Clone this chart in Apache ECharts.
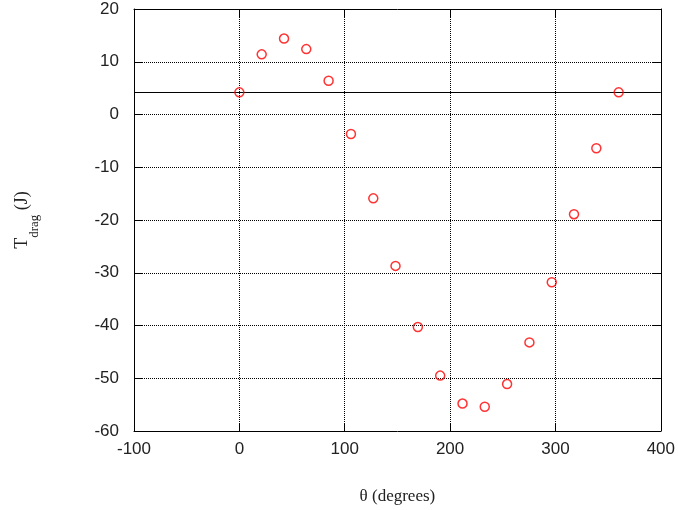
<!DOCTYPE html>
<html>
<head>
<meta charset="utf-8">
<script src="https://cdn.jsdelivr.net/npm/echarts@6/dist/echarts.min.js"></script>
<style>
  html, body { margin: 0; padding: 0; background: #fff; }
  #chart { width: 678px; height: 510px; }
</style>
</head>
<body>
<div id="chart"></div>
<script>
// Crank angle (degrees) and drag torque (J) samples
const theta = [0, 21.2, 42.4, 63.5, 84.7, 105.9, 127.1, 148.2, 169.4, 190.6,
               211.8, 232.9, 254.1, 275.3, 296.5, 317.6, 338.8, 360];
const tDrag = [4.2, 11.4, 14.4, 12.4, 6.4, -3.7, -15.9, -28.7, -40.3, -49.5,
               -54.8, -55.4, -51.1, -43.2, -31.8, -18.9, -6.4, 4.2];
// Reference level drawn across the full x range
const refLevel = 4.17;
const xRange = [-100, 400];
const yRange = [-60, 20];

const chart = echarts.init(document.getElementById('chart'), null, { renderer: 'canvas' });

const tickFont = { fontFamily: 'Liberation Sans, Arial, sans-serif', fontSize: 17, color: '#222' };
const serif = 'Liberation Serif, Times New Roman, serif';

const grid = { left: 134, right: 17, top: 9, bottom: 79 };

function xAx(primary) {
  return {
    type: 'value', min: xRange[0], max: xRange[1], interval: 100,
    position: primary ? 'bottom' : 'top',
    axisLine: { show: true, onZero: false, lineStyle: { color: '#000', width: 1 } },
    axisTick: { show: true, inside: true, length: 8, lineStyle: { color: '#000' } },
    axisLabel: primary ? Object.assign({ margin: 10 }, tickFont) : { show: false },
    splitLine: primary ? { show: true, lineStyle: { color: '#000', type: [1, 1], width: 1 } } : { show: false },
    name: primary ? '\u03b8 (degrees)' : '',
    nameLocation: 'middle', nameGap: 57,
    nameTextStyle: { fontFamily: serif, fontSize: 17, color: '#222' }
  };
}
function yAx(primary) {
  return {
    type: 'value', min: yRange[0], max: yRange[1], interval: 10,
    position: primary ? 'left' : 'right',
    axisLine: { show: true, onZero: false, lineStyle: { color: '#000', width: 1 } },
    axisTick: { show: true, inside: true, length: 8, lineStyle: { color: '#000' } },
    axisLabel: primary ? Object.assign({ margin: 15 }, tickFont) : { show: false },
    splitLine: primary ? { show: true, lineStyle: { color: '#000', type: [1, 1], width: 1 } } : { show: false },
    name: primary ? '{m|T}{s|drag}{m| (J)}' : '',
    nameLocation: 'middle', nameRotate: 90, nameGap: 93,
    nameTextStyle: {
      fontFamily: serif, color: '#222',
      rich: {
        m: { fontFamily: serif, fontSize: 18, color: '#222', lineHeight: 38, verticalAlign: 'middle' },
        s: { fontFamily: serif, fontSize: 13, color: '#222', lineHeight: 38, verticalAlign: 'bottom' }
      }
    }
  };
}

chart.setOption({
  backgroundColor: '#fff',
  animation: false,
  grid: grid,
  xAxis: [xAx(true), xAx(false)],
  yAxis: [yAx(true), yAx(false)],
  series: [
    {
      type: 'line',
      data: [[xRange[0], refLevel], [xRange[1], refLevel]],
      symbol: 'none',
      lineStyle: { color: '#000', width: 1.2 },
      silent: true, z: 2
    },
    {
      type: 'scatter',
      data: theta.map((t, i) => [t, tDrag[i]]),
      symbol: 'circle',
      symbolSize: 9,
      itemStyle: { color: 'rgba(0,0,0,0)', borderColor: '#ff0000', borderWidth: 1.5 },
      z: 3
    }
  ]
});
</script>
</body>
</html>
